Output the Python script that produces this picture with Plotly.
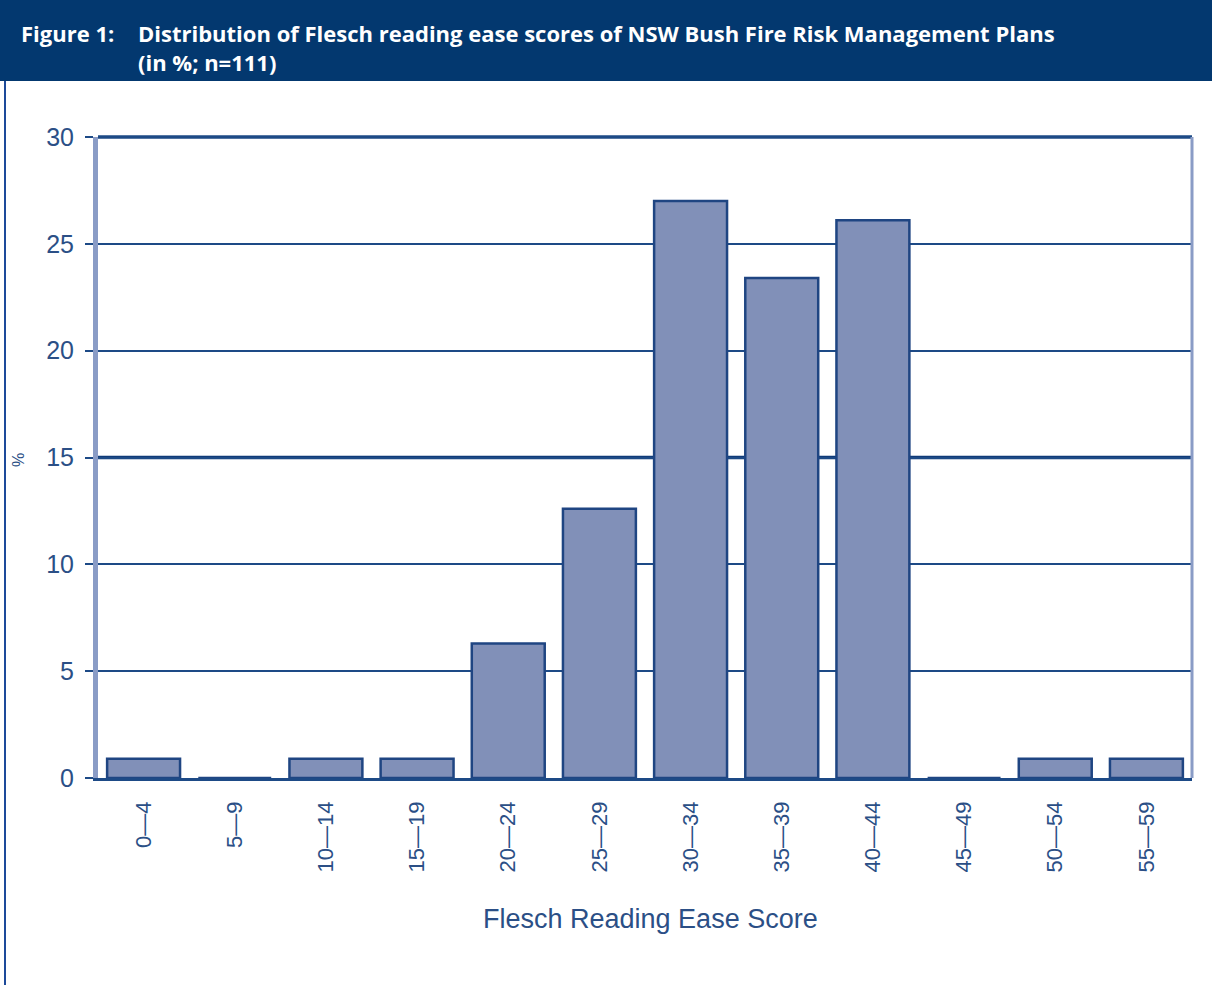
import plotly.graph_objects as go

categories = ["0—4", "5—9", "10—14", "15—19", "20—24", "25—29", "30—34",
              "35—39", "40—44", "45—49", "50—54", "55—59"]
percent = [0.9, 0, 0.9, 0.9, 6.3, 12.6, 27.0, 23.4, 26.1, 0, 0.9, 0.9]
y_ticks = [0, 5, 10, 15, 20, 25, 30]

W, H = 1212, 985
L, R, T, B = 98, 1192, 137, 778  # plot area pixels


def px(x):
    return (x - L) / (R - L)


def py(y):
    return (B - y) / (B - T)


NAVY = "#03386f"
GRID = "#1d4a86"
TXT = "#2b4f86"

fig = go.Figure()
fig.add_trace(go.Bar(
    x=categories, y=percent,
    marker=dict(color="#8190b8", line=dict(color="#1f4582", width=2.5)),
    width=0.8,
))

shapes = [
    dict(type="rect", xref="paper", yref="paper", x0=px(0), x1=px(W), y0=py(81), y1=py(0),
         fillcolor=NAVY, line=dict(width=0), layer="below"),
    dict(type="line", xref="paper", yref="paper", x0=px(5), x1=px(5), y0=py(81), y1=py(H),
         line=dict(color="#1d4a9a", width=2)),
    dict(type="line", xref="paper", yref="paper", x0=0, x1=1, y0=1, y1=1,
         line=dict(color=GRID, width=3.5)),
    dict(type="line", xref="paper", yref="paper", x0=1, x1=1, y0=0, y1=1,
         line=dict(color="#8a9cc6", width=3)),
    dict(type="line", xref="paper", yref="y", x0=0, x1=1, y0=15, y1=15,
         line=dict(color="#0f3a78", width=3.5), layer="below"),
]

TF = dict(family="Open Sans", size=22, color="white")
annotations = [
    dict(text="<b>Figure 1:</b>", xref="paper", yref="paper", x=px(19), y=py(33),
         xanchor="left", yanchor="middle", showarrow=False, font=TF),
    dict(text="<b>Distribution of Flesch reading ease scores of NSW Bush Fire Risk Management Plans"
              "<br>(in %; n=111)</b>",
         xref="paper", yref="paper", x=px(136), y=py(47), align="left",
         xanchor="left", yanchor="middle", showarrow=False, font=TF),
    dict(text="%", xref="paper", yref="paper", x=px(18), y=py(460), textangle=-90,
         xanchor="center", yanchor="middle", showarrow=False,
         font=dict(family="Liberation Sans", size=16, color=TXT)),
    dict(text="Flesch Reading Ease Score", xref="paper", yref="paper", x=px(650), y=py(919),
         xanchor="center", yanchor="middle", showarrow=False,
         font=dict(family="Liberation Sans", size=27, color=TXT)),
]

fig.update_layout(
    width=W, height=H,
    margin=dict(l=L, r=W - R, t=T, b=H - B, autoexpand=False),
    paper_bgcolor="white", plot_bgcolor="white",
    showlegend=False, bargap=0.2,
    shapes=shapes, annotations=annotations,
    xaxis=dict(
        type="category", tickangle=-90, showgrid=False,
        showline=True, linecolor=GRID, linewidth=2.5,
        ticks="", ticklabelstandoff=12,
        tickfont=dict(family="Liberation Sans", size=22, color=TXT),
    ),
    yaxis=dict(
        range=[0, 30], tickvals=y_ticks, showgrid=True,
        gridcolor=GRID, gridwidth=2,
        showline=True, linecolor="#8a9cc6", linewidth=5,
        ticks="outside", ticklen=8, tickcolor=GRID, tickwidth=2,
        ticklabelstandoff=6,
        tickfont=dict(family="Liberation Sans", size=25, color=TXT),
        zeroline=False,
    ),
)

fig.write_html("out.html")
